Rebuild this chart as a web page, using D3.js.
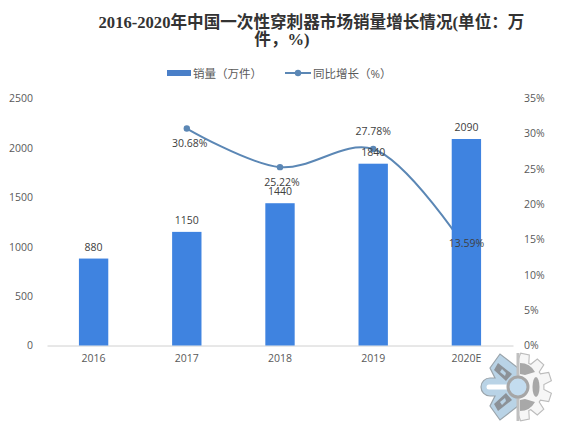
<!DOCTYPE html>
<html><head><meta charset="utf-8">
<script src="https://cdn.jsdelivr.net/npm/d3@7"></script>
<style>html,body{margin:0;background:#fff}svg{display:block}text{font-family:"Open Sans","Noto Sans CJK SC",sans-serif}</style>
</head><body><svg id="c" width="561" height="431"></svg>
<script>
const categories=["2016","2017","2018","2019","2020E"];
const sales=[880,1150,1440,1840,2090];
const growth=[null,30.68,25.22,27.78,13.59];
const leftTicks=[0,500,1000,1500,2000,2500];
const rightTicks=[0,5,10,15,20,25,30,35];
const titleLines=["2016-2020年中国一次性穿刺器市场销量增长情况(单位\uFF1A万","件\uFF0C%)"];
const legendNames=["销量\uFF08万件\uFF09","同比增长\uFF08%\uFF09"];
const svg=d3.select("#c");
const x=d3.scaleBand().domain(categories).range([47,513]).paddingInner(0.685).paddingOuter(0.3425);
const yL=d3.scaleLinear().domain([0,2500]).range([345.5,98.5]);
const yR=d3.scaleLinear().domain([0,35]).range([345.5,98]);
const cx=c=>x(c)+x.bandwidth()/2, txt="#595959";
// title
svg.append("g").selectAll("text").data(titleLines).join("text")
 .attr("x",(d,i)=>i?282:311.5).attr("y",(d,i)=>i?45:28).attr("text-anchor","middle")
 .attr("font-size",16.6).attr("font-weight",700).attr("fill","#333")
 .style("font-family",'"Liberation Serif","Noto Sans CJK SC",serif').text(d=>d);
// legend
svg.append("rect").attr("x",167).attr("y",70).attr("width",24).attr("height",6).attr("fill","#4a7fc8");
svg.append("text").attr("x",193).attr("y",78).attr("font-size",11.5).attr("fill",txt).text(legendNames[0]);
svg.append("line").attr("x1",285).attr("x2",311).attr("y1",73).attr("y2",73).attr("stroke","#5b87b5").attr("stroke-width",2);
svg.append("circle").attr("cx",298).attr("cy",73).attr("r",3.2).attr("fill","#5b87b5");
svg.append("text").attr("x",313).attr("y",78).attr("font-size",11.5).attr("fill",txt).text(legendNames[1]);
// axes
const axL=svg.append("g").attr("transform","translate(33,0)").call(d3.axisLeft(yL).tickValues(leftTicks).tickFormat(d3.format("d")).tickSize(0).tickPadding(0));
const axR=svg.append("g").attr("transform","translate(524,0)").call(d3.axisRight(yR).tickValues(rightTicks).tickFormat(d=>d+"%").tickSize(0).tickPadding(0));
const axB=svg.append("g").attr("transform","translate(0,345.5)").call(d3.axisBottom(x).tickSize(0).tickPadding(9));
[axL,axR,axB].forEach(a=>{a.selectAll("text").attr("font-size",10.5).attr("fill",txt).style("font-family",'"Open Sans",sans-serif');});
axL.select(".domain").remove();axR.select(".domain").remove();
axB.select(".domain").attr("stroke","#d0d0d0");
// line (sits behind the bars, as in the reference)
const pts=growth.map((v,i)=>({v,c:categories[i]})).filter(d=>d.v!=null);
svg.append("path").datum(pts).attr("fill","none").attr("stroke","#5b87b5").attr("stroke-width",2)
 .attr("d",d3.line().x(d=>cx(d.c)).y(d=>yR(d.v)).curve(d3.curveCatmullRom.alpha(0.5)));
svg.append("g").selectAll("circle").data(pts).join("circle")
 .attr("cx",d=>cx(d.c)).attr("cy",d=>yR(d.v)).attr("r",3.2).attr("fill","#5b87b5");
// bars
svg.append("g").selectAll("rect").data(sales).join("rect")
 .attr("x",(d,i)=>x(categories[i])).attr("width",x.bandwidth())
 .attr("y",d=>yL(d)).attr("height",d=>yL(0)-yL(d)).attr("fill","#3f83e0");
// labels
svg.append("g").selectAll("text").data(sales).join("text").attr("text-anchor","middle")
 .attr("x",(d,i)=>cx(categories[i])).attr("y",d=>yL(d)-8).attr("font-size",10.5).attr("fill","#404040").text(d=>d);
const off=[0,18,19,-14,-2];
const dx=[0,3,2,0,0];
svg.append("g").selectAll("text").data(growth).join("text").attr("text-anchor","middle")
 .attr("x",(d,i)=>cx(categories[i])+dx[i]).attr("y",(d,i)=>d==null?0:yR(d)+off[i]).attr("font-size",10.5).attr("fill","#404040")
 .text(d=>d==null?"":d.toFixed(2)+"%");
// watermark
const w=svg.append("g").attr("transform","translate(518,387)");
const teeth=[-78,-48,-18,18,48,78].map(a=>a*Math.PI/180);
const P=(r,a)=>`${(r*Math.cos(a)).toFixed(1)},${(r*Math.sin(a)).toFixed(1)}`;
let p="M0,-27";
teeth.forEach(a=>{const R=34,r=26,h=.13;
 p+=`L${P(r,a-h-.09)}L${P(R,a-h)}L${P(R,a+h)}L${P(r,a+h+.09)}`;});
p+="L0,27Z";
w.append("path").attr("d",p).attr("fill","#f6f6f6").attr("stroke","#bcbcbc").attr("stroke-width",1.1);
w.append("path").attr("d","M2,-24Q12,-24 17,-15L7,-12L2,-13Z M2,24Q12,24 17,15L7,12L2,13Z").attr("fill","#a8a8a8");
w.append("ellipse").attr("cx",18).attr("cy",0).attr("rx",3.5).attr("ry",10).attr("fill","#a8a8a8");
w.append("path").attr("d","M0,-19L-18,-33L-28,-19L-23,-9L-28,-9A9,9 0 0 0 -28,9L-23,9L-28,19L-18,33L0,19Z")
 .attr("fill","#b9d3e6").attr("stroke","#9aa4ab").attr("stroke-width",1.2);
w.append("path").attr("d","M-20,-24L-6,-13L-12,-6L-24,-17Z M-20,24L-6,13L-12,6L-24,17Z").attr("fill","#8c9298");
w.append("path").attr("d","M-18,-15L-13,-11L-12,-14L-16,-18Z M-18,15L-13,11L-12,14L-16,18Z").attr("fill","#b9d3e6");
w.append("path").attr("d","M-29,-2.5H-10V2.5H-29A2.5,2.5 0 0 1 -29,-2.5Z").attr("fill","#fff");
w.append("rect").attr("x",-1.5).attr("y",-34).attr("width",3).attr("height",68).attr("fill","#c0c0c0");
w.append("circle").attr("r",10).attr("fill","#c3dcef").attr("stroke","#a6a6a6").attr("stroke-width",3);
</script></body></html>
